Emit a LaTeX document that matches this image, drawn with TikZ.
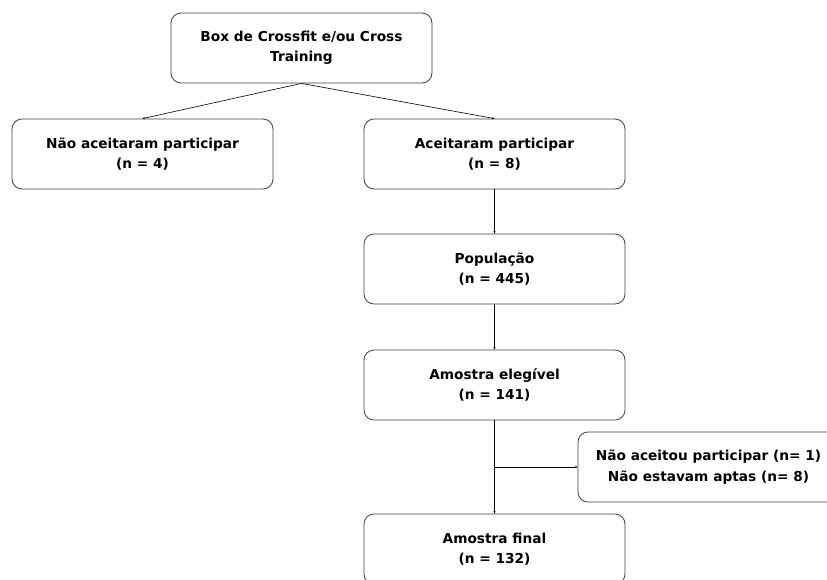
\documentclass[tikz,border=0pt]{standalone}
\usepackage{fontspec}
\setmainfont{DejaVu Sans}
\usetikzlibrary{arrows.meta}
\tikzset{
  caixa/.style={draw=black!75,line width=0.8pt,rounded corners=10pt,minimum width=261pt,
    minimum height=70pt,align=center,inner sep=0pt,font=\fontsize{13.7}{20.5}\selectfont\bfseries},
  seta/.style={-{Stealth[length=2.5pt,width=2.2pt]},line width=0.6pt}
}
\begin{document}
\begin{tikzpicture}[x=1pt,y=-1pt]
\useasboundingbox (0,0) rectangle (827,579);
\clip (0,0) rectangle (827,579);
\node[caixa](box) at (301.5,48){Box de Crossfit e/ou Cross\\Training};
\node[caixa](nao) at (142.5,154){Não aceitaram participar\\(n = 4)};
\node[caixa](sim) at (494.5,154){Aceitaram participar\\(n = 8)};
\node[caixa](pop) at (494.5,269){População\\(n = 445)};
\node[caixa](eleg) at (494.5,385){Amostra elegível\\(n = 141)};
\node[caixa](excl) at (708.5,467){Não aceitou participar (n= 1)\\Não estavam aptas (n= 8)};
\node[caixa](final) at (494.5,549){Amostra final\\(n = 132)};
\coordinate (ramo) at (494.5,467);
\draw[seta](box.south)--(nao.north);
\draw[seta](box.south)--(sim.north);
\draw[seta](sim)--(pop);
\draw[seta](pop)--(eleg);
\draw[seta](eleg)--(final);
\draw[seta](ramo)--(excl);
\end{tikzpicture}
\end{document}
